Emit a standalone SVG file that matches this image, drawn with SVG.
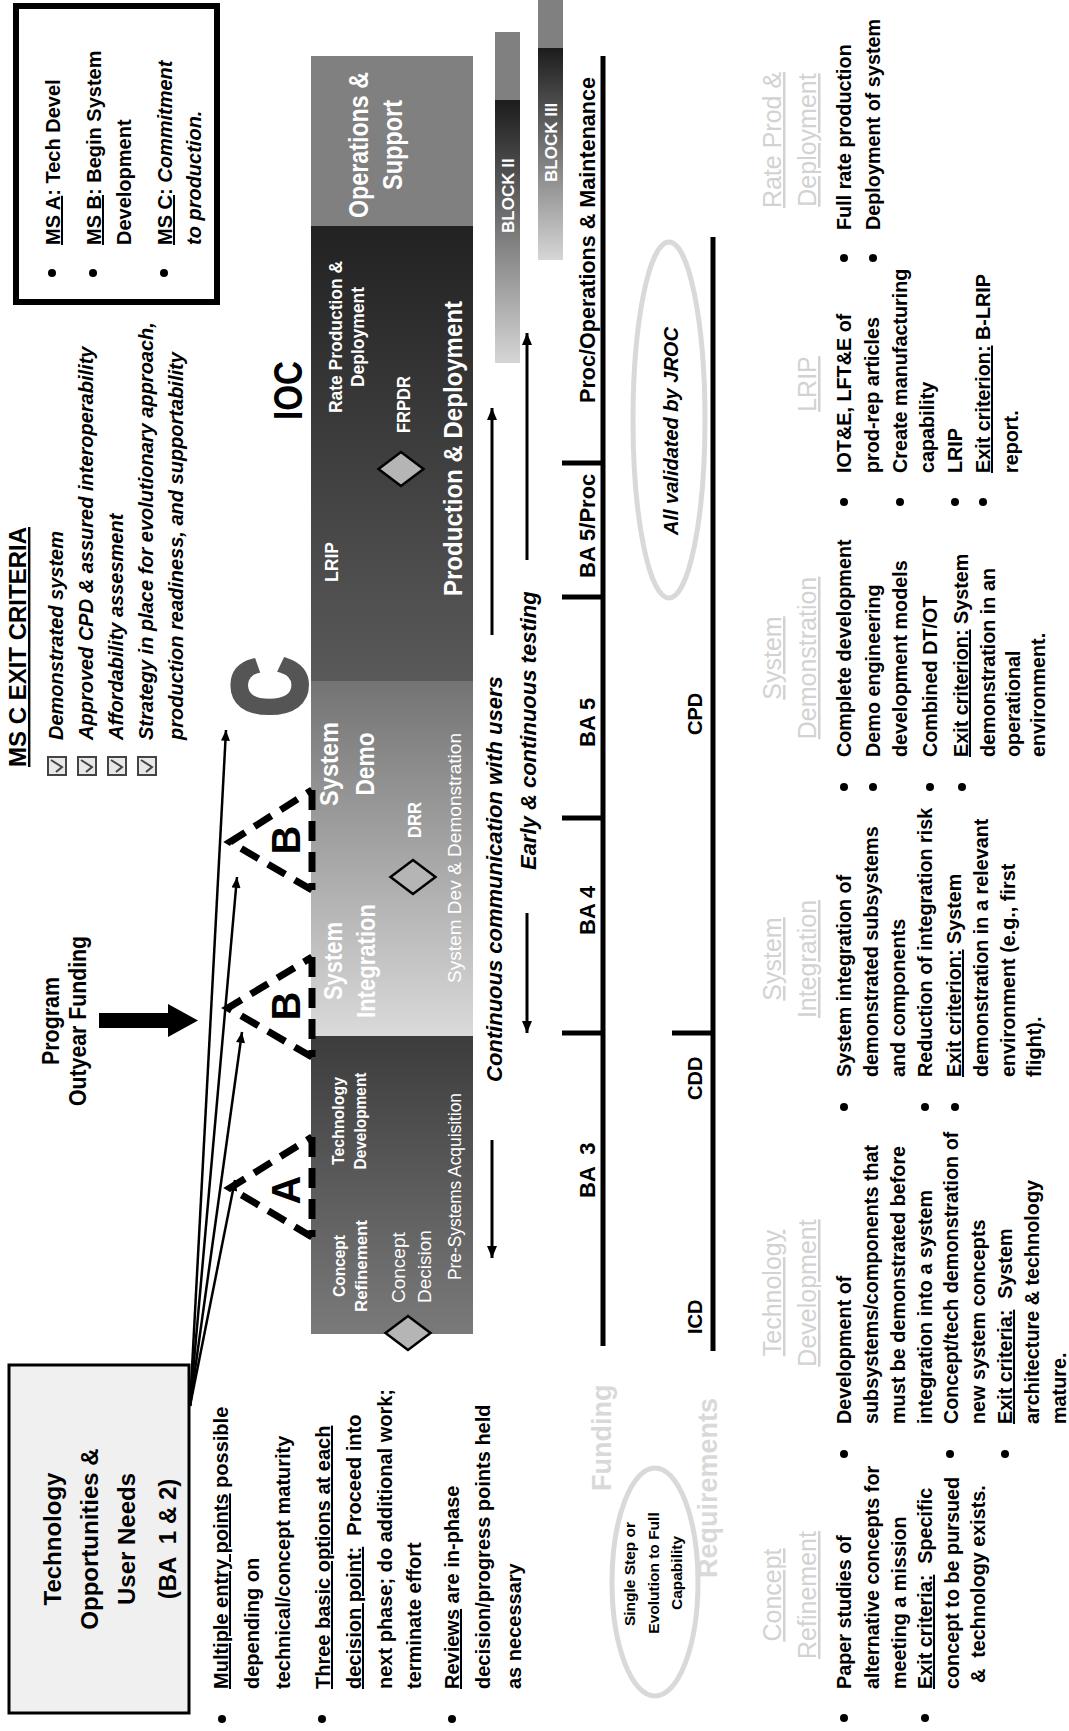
<svg xmlns="http://www.w3.org/2000/svg" width="1069" height="1731" viewBox="0 0 1069 1731">
<defs>
<style>
text{font-family:"Liberation Sans",Arial,Helvetica,sans-serif}
.b{font-weight:bold}
.i{font-style:italic}
.w{fill:#fff}
.c{text-anchor:middle}
.u{text-decoration:underline}
.hd{font-size:25px;fill:#d2d2d2;text-anchor:middle;text-decoration:underline}
.bl{font-size:19.8px;font-weight:bold}
.lb{font-size:20px;font-weight:bold}
.ba{font-size:22px;font-weight:bold}
.rq{font-size:20px;font-weight:bold}
.cb{font-size:20px;font-weight:bold;font-style:italic}
.dash{fill:none;stroke:#000;stroke-width:7;stroke-dasharray:20 11}
.ln{stroke:#000;stroke-width:5}
.con{stroke:#000;stroke-width:2.5;fill:none}
.arw{stroke:#000;stroke-width:3;fill:none}
.dm{fill:#b5b5b5;stroke:#000;stroke-width:2.5}
.ell{fill:none;stroke:#d9d9d9;stroke-width:5}
.dot{fill:#000}
.ckb{fill:#e8e8e8;stroke:#444;stroke-width:2}
.ck{fill:none;stroke:#444;stroke-width:2}
</style>
<linearGradient id="gTech" gradientUnits="userSpaceOnUse" x1="397" y1="0" x2="695" y2="0"><stop offset="0" stop-color="#7a7a7a"/><stop offset="1" stop-color="#3c3c3c"/></linearGradient>
<linearGradient id="gSys" gradientUnits="userSpaceOnUse" x1="695" y1="0" x2="1050" y2="0"><stop offset="0" stop-color="#dadada"/><stop offset="1" stop-color="#737373"/></linearGradient>
<linearGradient id="gProd" gradientUnits="userSpaceOnUse" x1="1050" y1="0" x2="1505" y2="0"><stop offset="0" stop-color="#5a5a5a"/><stop offset="1" stop-color="#222222"/></linearGradient>
<linearGradient id="gB2" gradientUnits="userSpaceOnUse" x1="1368" y1="0" x2="1631" y2="0"><stop offset="0" stop-color="#d6d6d6"/><stop offset="1" stop-color="#1c1c1c"/></linearGradient>
<linearGradient id="gB3" gradientUnits="userSpaceOnUse" x1="1471" y1="0" x2="1683" y2="0"><stop offset="0" stop-color="#d6d6d6"/><stop offset="1" stop-color="#1c1c1c"/></linearGradient>
<marker id="ah" viewBox="0 0 12 10" refX="12" refY="5" markerWidth="12" markerHeight="9" orient="auto" markerUnits="userSpaceOnUse"><path d="M0,0 L12,5 L0,10 z" fill="#000"/></marker>
<marker id="ah2" viewBox="0 0 12 10" refX="12" refY="5" markerWidth="12" markerHeight="11" orient="auto" markerUnits="userSpaceOnUse"><path d="M0,0 L12,5 L0,10 z" fill="#000"/></marker>
</defs>
<g transform="translate(0,1731) rotate(-90)">

<g id="tech-opportunities">
<rect x="18" y="9" width="348" height="180" fill="#f0f0f0" stroke="#000" stroke-width="3"/>
<text class="b c" x="192" y="61" font-size="24">Technology</text>
<text class="b c" x="192" y="98" font-size="24">Opportunities &amp;</text>
<text class="b c" x="192" y="135" font-size="24">User Needs</text>
<text class="b c" x="192" y="176" font-size="24" xml:space="preserve">(BA  1 &amp; 2)</text>
</g>

<g id="left-notes">
<circle class="dot" cx="12" cy="222" r="4"/>
<circle class="dot" cx="12" cy="322" r="4"/>
<circle class="dot" cx="12" cy="452" r="4"/>
<text class="lb" x="42" y="228"><tspan class="u">Multiple entry points</tspan> possible</text>
<text class="lb" x="42" y="259">depending on</text>
<text class="lb" x="42" y="290">technical/concept maturity</text>
<text class="lb u" x="42" y="330">Three basic options at each</text>
<text class="lb" x="42" y="361" xml:space="preserve"><tspan class="u">decision point:</tspan>  Proceed into</text>
<text class="lb" x="42" y="392">next phase; do additional work;</text>
<text class="lb" x="42" y="421">terminate effort</text>
<text class="lb" x="42" y="459"><tspan class="u">Reviews</tspan> are in-phase</text>
<text class="lb" x="42" y="490">decision/progress points held</text>
<text class="lb" x="42" y="521">as necessary</text>
</g>

<g id="program-funding">
<text class="b c" x="710" y="59" font-size="23" textLength="88" lengthAdjust="spacingAndGlyphs">Program</text>
<text class="b c" x="710" y="86" font-size="23" textLength="170" lengthAdjust="spacingAndGlyphs">Outyear Funding</text>
<polygon points="703,99 718,99 718,168 727,168 710.5,198 694,168 703,168" fill="#000"/>
</g>

<g id="msc-exit-criteria">
<text class="b u" x="964" y="26" font-size="24">MS C EXIT CRITERIA</text>
<rect class="ckb" x="956" y="48" width="18" height="18"/><path class="ck" d="M959,56 L964,62 L971,51"/>
<rect class="ckb" x="956" y="78" width="18" height="18"/><path class="ck" d="M959,86 L964,92 L971,81"/>
<rect class="ckb" x="956" y="108" width="18" height="18"/><path class="ck" d="M959,116 L964,122 L971,111"/>
<rect class="ckb" x="956" y="138" width="18" height="18"/><path class="ck" d="M959,146 L964,152 L971,141"/>
<text class="cb" x="991" y="63">Demonstrated system</text>
<text class="cb" x="991" y="93">Approved CPD &amp; assured interoperability</text>
<text class="cb" x="991" y="123">Affordability assesment</text>
<text class="cb" x="991" y="153">Strategy in place for evolutionary approach,</text>
<text class="cb" x="991" y="183">production readiness, and supportability</text>
</g>

<g id="ms-box">
<rect x="1429" y="16" width="296" height="201" fill="#fff" stroke="#000" stroke-width="6"/>
<circle class="dot" cx="1458" cy="52" r="4"/>
<circle class="dot" cx="1458" cy="93" r="4"/>
<circle class="dot" cx="1458" cy="164" r="4"/>
<text class="lb" x="1486" y="60"><tspan class="u">MS A</tspan>: Tech Devel</text>
<text class="lb" x="1486" y="101"><tspan class="u">MS B</tspan>: Begin System</text>
<text class="lb" x="1486" y="131">Development</text>
<text class="lb" x="1486" y="172"><tspan class="u">MS C</tspan>: <tspan class="i">Commitment</tspan></text>
<text class="lb i" x="1486" y="201">to production.</text>
</g>

<g id="phase-bar">
<rect x="397" y="311" width="298" height="162" fill="url(#gTech)"/>
<rect x="695" y="311" width="355" height="162" fill="url(#gSys)"/>
<rect x="1050" y="311" width="455" height="162" fill="url(#gProd)"/>
<rect x="1505" y="311" width="170" height="162" fill="#808080"/>
<text class="w c b" x="465" y="345" font-size="17" textLength="62" lengthAdjust="spacingAndGlyphs">Concept</text>
<text class="w c b" x="465" y="367" font-size="17" textLength="92" lengthAdjust="spacingAndGlyphs">Refinement</text>
<text class="w c b" x="610" y="344" font-size="17" textLength="88" lengthAdjust="spacingAndGlyphs">Technology</text>
<text class="w c b" x="610" y="366" font-size="17" textLength="97" lengthAdjust="spacingAndGlyphs">Development</text>
<text class="w" x="428" y="405" font-size="19">Concept</text>
<text class="w" x="428" y="431" font-size="19">Decision</text>
<text class="w" x="451" y="461" font-size="18" textLength="187" lengthAdjust="spacingAndGlyphs">Pre-Systems Acquisition</text>
<text class="w c b" x="770" y="342" font-size="25" textLength="78" lengthAdjust="spacingAndGlyphs">System</text>
<text class="w c b" x="770" y="375" font-size="25" textLength="114" lengthAdjust="spacingAndGlyphs">Integration</text>
<text class="w c b" x="967" y="338" font-size="25" textLength="84" lengthAdjust="spacingAndGlyphs">System</text>
<text class="w c b" x="967" y="374" font-size="25" textLength="63" lengthAdjust="spacingAndGlyphs">Demo</text>
<text class="w b" x="893" y="421" font-size="18" textLength="36" lengthAdjust="spacingAndGlyphs">DRR</text>
<text class="w" x="748" y="461" font-size="19" textLength="250" lengthAdjust="spacingAndGlyphs">System Dev &amp; Demonstration</text>
<text class="w b" x="1149" y="338" font-size="19" textLength="40" lengthAdjust="spacingAndGlyphs">LRIP</text>
<text class="w c b" x="1394" y="342" font-size="19" textLength="152" lengthAdjust="spacingAndGlyphs">Rate Production &amp;</text>
<text class="w c b" x="1394" y="364" font-size="19" textLength="100" lengthAdjust="spacingAndGlyphs">Deployment</text>
<text class="w b" x="1298" y="410" font-size="18" textLength="57" lengthAdjust="spacingAndGlyphs">FRPDR</text>
<text class="w b" x="1135" y="462" font-size="26" textLength="295" lengthAdjust="spacingAndGlyphs">Production &amp; Deployment</text>
<text class="w c b" x="1586" y="368" font-size="27" textLength="146" lengthAdjust="spacingAndGlyphs">Operations &amp;</text>
<text class="w c b" x="1586" y="402" font-size="27" textLength="90" lengthAdjust="spacingAndGlyphs">Support</text>
</g>

<g id="milestones">
<polygon class="dm" points="381,408 398,385.5 415,408 398,430.5"/>
<polygon class="dm" points="837,413 854,390.5 871,413 854,435.5"/>
<polygon class="dm" points="1245,401 1262,378.5 1279,401 1262,423.5"/>
<path class="dash" d="M494,312 L543,230 L594,312 M594,312 L494,312"/>
<path class="dash" d="M674,312 L723,228 L774,312 M774,312 L674,312"/>
<path class="dash" d="M841,312 L889,230 L941,312 M941,312 L841,312"/>
<text class="b c" x="541" y="300" font-size="40">A</text>
<text class="b c" x="725" y="300" font-size="40">B</text>
<text class="b c" x="891" y="300" font-size="40">B</text>
<text class="b" x="1015" y="305" font-size="102" fill="#555" stroke="#555" stroke-width="6" textLength="58" lengthAdjust="spacingAndGlyphs">C</text>
<text class="b" x="1311" y="302" font-size="40" textLength="59" lengthAdjust="spacingAndGlyphs">IOC</text>
</g>

<g id="blocks">
<rect x="1368" y="495" width="263" height="25" fill="url(#gB2)"/>
<rect x="1631" y="495" width="68" height="25" fill="#808080"/>
<text class="b w" x="1498" y="514" font-size="17">BLOCK II</text>
<rect x="1471" y="538" width="212" height="25" fill="url(#gB3)"/>
<rect x="1683" y="538" width="48" height="25" fill="#808080"/>
<text class="b w" x="1549" y="557" font-size="17">BLOCK III</text>
</g>

<g id="communication">
<text class="b i" x="649" y="502" font-size="22">Continuous communication with users</text>
<text class="b i" x="861" y="536" font-size="22">Early &amp; continuous testing</text>
</g>

<g id="funding-timeline">
<line class="ln" x1="385" y1="603" x2="1675" y2="603"/>
<line class="ln" x1="698" y1="562" x2="698" y2="603"/>
<line class="ln" x1="913" y1="562" x2="913" y2="603"/>
<line class="ln" x1="1134" y1="562" x2="1134" y2="603"/>
<line class="ln" x1="1268" y1="562" x2="1268" y2="603"/>
<text class="ba" x="533" y="595" xml:space="preserve">BA  3</text>
<text class="ba" x="796" y="595">BA 4</text>
<text class="ba" x="984" y="595">BA 5</text>
<text class="ba" x="1153" y="595">BA 5/Proc</text>
<text class="ba" x="1328" y="595" textLength="326" lengthAdjust="spacingAndGlyphs">Proc/Operations &amp; Maintenance</text>
<text class="b" x="240" y="611" font-size="27" fill="#d9d9d9">Funding</text>
</g>

<g id="requirements-timeline">
<line class="ln" x1="380" y1="713" x2="1494" y2="713"/>
<line class="ln" x1="698" y1="672" x2="698" y2="713"/>
<text class="rq" x="397" y="702">ICD</text>
<text class="rq" x="631" y="702">CDD</text>
<text class="rq" x="996" y="702">CPD</text>
<text class="b" x="153" y="717" font-size="27" fill="#d9d9d9">Requirements</text>
<ellipse class="ell" cx="1311" cy="669" rx="178" ry="36"/>
<text class="cb" x="1196" y="678">All validated by JROC</text>
<ellipse class="ell" cx="149" cy="655" rx="114" ry="43"/>
<text class="b c" x="157" y="635" font-size="15.5">Single Step or</text>
<text class="b c" x="158" y="659" font-size="15.5">Evolution to Full</text>
<text class="b c" x="158" y="682" font-size="15.5">Capability</text>
</g>

<g id="phase-descriptions">
<text class="hd" x="136" y="781">Concept</text>
<text class="hd" x="136" y="816">Refinement</text>
<text class="hd" x="438" y="781">Technology</text>
<text class="hd" x="438" y="816">Development</text>
<text class="hd" x="772" y="781">System</text>
<text class="hd" x="772" y="816">Integration</text>
<text class="hd" x="1073" y="781">System</text>
<text class="hd" x="1073" y="816">Demonstration</text>
<text class="hd" x="1347" y="816">LRIP</text>
<text class="hd" x="1591" y="781">Rate Prod &amp;</text>
<text class="hd" x="1591" y="816">Deployment</text>

<circle class="dot" cx="13" cy="844" r="4"/><circle class="dot" cx="13" cy="925" r="4"/>
<text class="bl" x="42" y="851">Paper studies of</text>
<text class="bl" x="42" y="879">alternative concepts for</text>
<text class="bl" x="42" y="906">meeting a mission</text>
<text class="bl" x="42" y="932" xml:space="preserve"><tspan class="u">Exit criteria:</tspan>  Specific</text>
<text class="bl" x="42" y="959">concept to be pursued</text>
<text class="bl" x="48" y="985" xml:space="preserve">&amp;  technology exists.</text>

<circle class="dot" cx="277" cy="844" r="4"/><circle class="dot" cx="277" cy="950" r="4"/><circle class="dot" cx="277" cy="1005" r="4"/>
<text class="bl" x="307" y="851">Development of</text>
<text class="bl" x="307" y="878">subsystems/components that</text>
<text class="bl" x="307" y="905">must be demonstrated before</text>
<text class="bl" x="307" y="932">integration into a system</text>
<text class="bl" x="307" y="958">Concept/tech demonstration of</text>
<text class="bl" x="307" y="985">new system concepts</text>
<text class="bl" x="307" y="1012" xml:space="preserve"><tspan class="u">Exit criteria:</tspan>  System</text>
<text class="bl" x="307" y="1039">architecture &amp; technology</text>
<text class="bl" x="307" y="1066">mature.</text>

<circle class="dot" cx="624" cy="844" r="4"/><circle class="dot" cx="624" cy="925" r="4"/><circle class="dot" cx="624" cy="955" r="4"/>
<text class="bl" x="654" y="851">System integration of</text>
<text class="bl" x="654" y="878">demonstrated subsystems</text>
<text class="bl" x="654" y="905">and components</text>
<text class="bl" x="654" y="932">Reduction of integration risk</text>
<text class="bl" x="654" y="961"><tspan class="u">Exit criterion:</tspan> System</text>
<text class="bl" x="654" y="988">demonstration in a relevant</text>
<text class="bl" x="654" y="1015">environment (e.g., first</text>
<text class="bl" x="654" y="1041">flight).</text>

<circle class="dot" cx="944" cy="844" r="4"/><circle class="dot" cx="944" cy="873" r="4"/><circle class="dot" cx="944" cy="930" r="4"/><circle class="dot" cx="944" cy="962" r="4"/>
<text class="bl" x="974" y="851">Complete development</text>
<text class="bl" x="974" y="880">Demo engineering</text>
<text class="bl" x="974" y="907">development models</text>
<text class="bl" x="974" y="937">Combined DT/OT</text>
<text class="bl" x="974" y="968"><tspan class="u">Exit criterion:</tspan> System</text>
<text class="bl" x="974" y="995">demonstration in an</text>
<text class="bl" x="974" y="1020">operational</text>
<text class="bl" x="974" y="1045">environment.</text>

<circle class="dot" cx="1229" cy="844" r="4"/><circle class="dot" cx="1229" cy="900" r="4"/><circle class="dot" cx="1229" cy="955" r="4"/><circle class="dot" cx="1229" cy="983" r="4"/>
<text class="bl" x="1258" y="851">IOT&amp;E, LFT&amp;E of</text>
<text class="bl" x="1258" y="879">prod-rep articles</text>
<text class="bl" x="1258" y="907">Create manufacturing</text>
<text class="bl" x="1258" y="934">capability</text>
<text class="bl" x="1258" y="962">LRIP</text>
<text class="bl" x="1258" y="990"><tspan class="u">Exit criterion:</tspan> B-LRIP</text>
<text class="bl" x="1258" y="1018">report.</text>

<circle class="dot" cx="1473" cy="844" r="4"/><circle class="dot" cx="1473" cy="873" r="4"/>
<text class="bl" x="1501" y="851">Full rate production</text>
<text class="bl" x="1501" y="880">Deployment of system</text>
</g>

<g id="connectors">
<line class="con" x1="325" y1="190" x2="551" y2="235" marker-end="url(#ah)"/>
<line class="con" x1="325" y1="190" x2="699" y2="242" marker-end="url(#ah)"/>
<line class="con" x1="325" y1="190" x2="854" y2="237" marker-end="url(#ah)"/>
<line class="con" x1="325" y1="190" x2="1001" y2="226" marker-end="url(#ah)"/>
<line class="arw" x1="591" y1="492" x2="473" y2="492" marker-end="url(#ah2)"/>
<line class="arw" x1="818" y1="527" x2="698" y2="527" marker-end="url(#ah2)"/>
<line class="arw" x1="1096" y1="492" x2="1323" y2="492" marker-end="url(#ah2)"/>
<line class="arw" x1="1171" y1="527" x2="1398" y2="527" marker-end="url(#ah2)"/>
</g>

</g>
</svg>
